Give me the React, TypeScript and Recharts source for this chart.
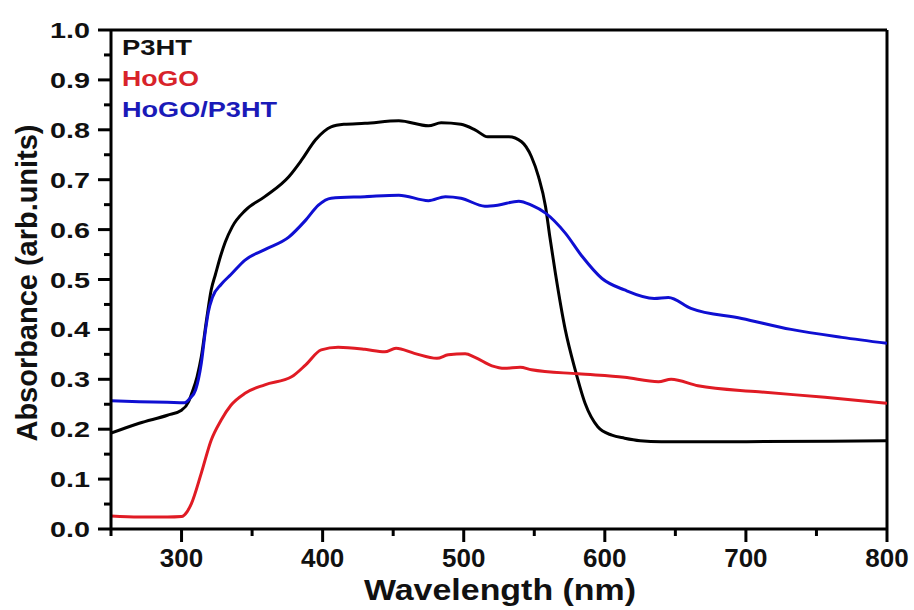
import React from "react";
import { LineChart, Line, XAxis, YAxis, ReferenceLine } from "recharts";

// Absorption spectra: wavelength (nm) and absorbance (arb. units) per sample
const P3HT_WL = [250, 270, 290, 300, 305, 307, 311, 314, 318, 321, 324, 328, 331, 336, 345, 359, 376, 385, 395, 401, 406, 415, 430, 454, 475, 484, 498, 508, 517, 532, 541, 548, 553, 558, 561, 565, 572, 579, 586, 595, 605, 614, 625, 640, 700, 760, 800];
const P3HT_ABS = [0.192, 0.212, 0.228, 0.238, 0.255, 0.27, 0.305, 0.345, 0.425, 0.479, 0.51, 0.55, 0.575, 0.606, 0.638, 0.666, 0.706, 0.739, 0.78, 0.797, 0.806, 0.811, 0.813, 0.818, 0.808, 0.814, 0.811, 0.8, 0.786, 0.786, 0.776, 0.746, 0.706, 0.646, 0.586, 0.512, 0.399, 0.319, 0.252, 0.205, 0.188, 0.182, 0.177, 0.175, 0.175, 0.176, 0.177];

const HOGO_WL = [250, 270, 290, 300, 304, 307, 314, 321, 328, 335, 345, 359, 378, 388, 399, 411, 430, 444, 452, 465, 481, 489, 501, 508, 520, 529, 540, 548, 581, 614, 638, 647, 666, 709, 756, 800];
const HOGO_ABS = [0.026, 0.024, 0.024, 0.025, 0.035, 0.051, 0.112, 0.178, 0.218, 0.248, 0.272, 0.289, 0.305, 0.329, 0.359, 0.364, 0.36, 0.355, 0.362, 0.352, 0.342, 0.349, 0.351, 0.344, 0.327, 0.322, 0.324, 0.319, 0.311, 0.304, 0.295, 0.3, 0.287, 0.275, 0.264, 0.252];

const BLEND_WL = [250, 270, 290, 302, 306, 310, 314, 317, 319, 322, 328, 335, 345, 359, 376, 388, 397, 406, 430, 454, 475, 487, 498, 515, 524, 539, 548, 558, 572, 584, 598, 614, 635, 645, 661, 697, 732, 768, 800];
const BLEND_ABS = [0.257, 0.255, 0.254, 0.253, 0.262, 0.279, 0.332, 0.399, 0.435, 0.465, 0.49, 0.51, 0.539, 0.56, 0.585, 0.619, 0.649, 0.663, 0.666, 0.669, 0.658, 0.666, 0.663, 0.647, 0.649, 0.657, 0.649, 0.633, 0.593, 0.546, 0.502, 0.479, 0.462, 0.464, 0.442, 0.422, 0.4, 0.384, 0.372];

const X_TICKS = [250, 300, 350, 400, 450, 500, 550, 600, 650, 700, 750, 800];
const X_MAJOR = [300, 400, 500, 600, 700, 800];
const Y_TICKS = [0, 0.05, 0.1, 0.15, 0.2, 0.25, 0.3, 0.35, 0.4, 0.45, 0.5, 0.55, 0.6, 0.65, 0.7, 0.75, 0.8, 0.85, 0.9, 0.95, 1.0];

const LEGEND = [
  { name: "P3HT", color: "#111111", len: 70 },
  { name: "HoGO", color: "#d8232a", len: 77 },
  { name: "HoGO/P3HT", color: "#1a1ab8", len: 155 },
];

const RED = "#e01b24";
const BLUE = "#0f0fd2";
const FONT = "'Liberation Sans', Arial, sans-serif";

const toPoints = (wl: number[], abs: number[]) => wl.map((w, i) => ({ wl: w, abs: abs[i] }));

const p3ht = toPoints(P3HT_WL, P3HT_ABS);
const hogo = toPoints(HOGO_WL, HOGO_ABS);
const blend = toPoints(BLEND_WL, BLEND_ABS);

const isMajorX = (v: number) => X_MAJOR.includes(v);
const isMajorY = (v: number) => Math.abs(v * 10 - Math.round(v * 10)) < 1e-6;

const XTick = (props: any) => {
  const { x, y, payload } = props;
  const v = payload.value as number;
  const major = isMajorX(v);
  return (
    <g>
      <line x1={x} x2={x} y1={y} y2={y + (major ? 13 : 7)} stroke="#000" strokeWidth={3} />
      {major && (
        <text x={x} y={y + 38} textAnchor="middle" fontFamily={FONT} fontWeight="bold" fontSize={26} fill="#111">
          {v}
        </text>
      )}
    </g>
  );
};

const YTick = (props: any) => {
  const { x, y, payload } = props;
  const v = payload.value as number;
  const major = isMajorY(v);
  return (
    <g>
      <line x1={x} x2={x - (major ? 13 : 7)} y1={y} y2={y} stroke="#000" strokeWidth={3} />
      {major && (
        <text
          x={x - 61}
          y={y + 8}
          textLength={40}
          lengthAdjust="spacingAndGlyphs"
          fontFamily={FONT}
          fontWeight="bold"
          fontSize={22}
          fill="#111"
        >
          {v.toFixed(1)}
        </text>
      )}
    </g>
  );
};

export default function App() {
  return (
    <div style={{ position: "absolute", left: 0, top: 0, width: 914, height: 610, background: "#fff" }}>
      <LineChart width={914} height={610} margin={{ top: 30, right: 27, bottom: 41, left: 31 }}>
        <XAxis
          dataKey="wl"
          type="number"
          domain={[250, 800]}
          ticks={X_TICKS}
          interval={0}
          allowDataOverflow
          height={40}
          axisLine={{ stroke: "#000", strokeWidth: 3 }}
          tickLine={false}
          tickSize={0}
          tickMargin={0}
          tick={<XTick />}
        />
        <YAxis
          type="number"
          domain={[0, 1]}
          ticks={Y_TICKS}
          interval={0}
          allowDataOverflow
          width={80}
          axisLine={{ stroke: "#000", strokeWidth: 3 }}
          tickLine={false}
          tickSize={0}
          tickMargin={0}
          tick={<YTick />}
        />
        <ReferenceLine y={1} stroke="#000" strokeWidth={3} />
        <ReferenceLine x={800} stroke="#000" strokeWidth={3} />
        <Line data={p3ht} dataKey="abs" type="monotone" stroke="#000" strokeWidth={3} dot={false} isAnimationActive={false} />
        <Line data={hogo} dataKey="abs" type="monotone" stroke={RED} strokeWidth={3} dot={false} isAnimationActive={false} />
        <Line data={blend} dataKey="abs" type="monotone" stroke={BLUE} strokeWidth={3} dot={false} isAnimationActive={false} />
      </LineChart>
      <svg
        width={914}
        height={610}
        style={{ position: "absolute", left: 0, top: 0, pointerEvents: "none" }}
      >
        {LEGEND.map((item, i) => (
          <text
            key={item.name}
            x={122}
            y={55 + i * 31}
            textLength={item.len}
            lengthAdjust="spacingAndGlyphs"
            fontFamily={FONT}
            fontWeight="bold"
            fontSize={22}
            fill={item.color}
          >
            {item.name}
          </text>
        ))}
        <text
          x={500}
          y={600}
          textAnchor="middle"
          textLength={272}
          lengthAdjust="spacingAndGlyphs"
          fontFamily={FONT}
          fontWeight="bold"
          fontSize={30}
          fill="#111"
        >
          Wavelength (nm)
        </text>
        <text
          transform="translate(37,283) rotate(-90)"
          x={0}
          y={0}
          textAnchor="middle"
          textLength={317}
          lengthAdjust="spacingAndGlyphs"
          fontFamily={FONT}
          fontWeight="bold"
          fontSize={30}
          fill="#111"
        >
          Absorbance (arb.units)
        </text>
      </svg>
    </div>
  );
}
